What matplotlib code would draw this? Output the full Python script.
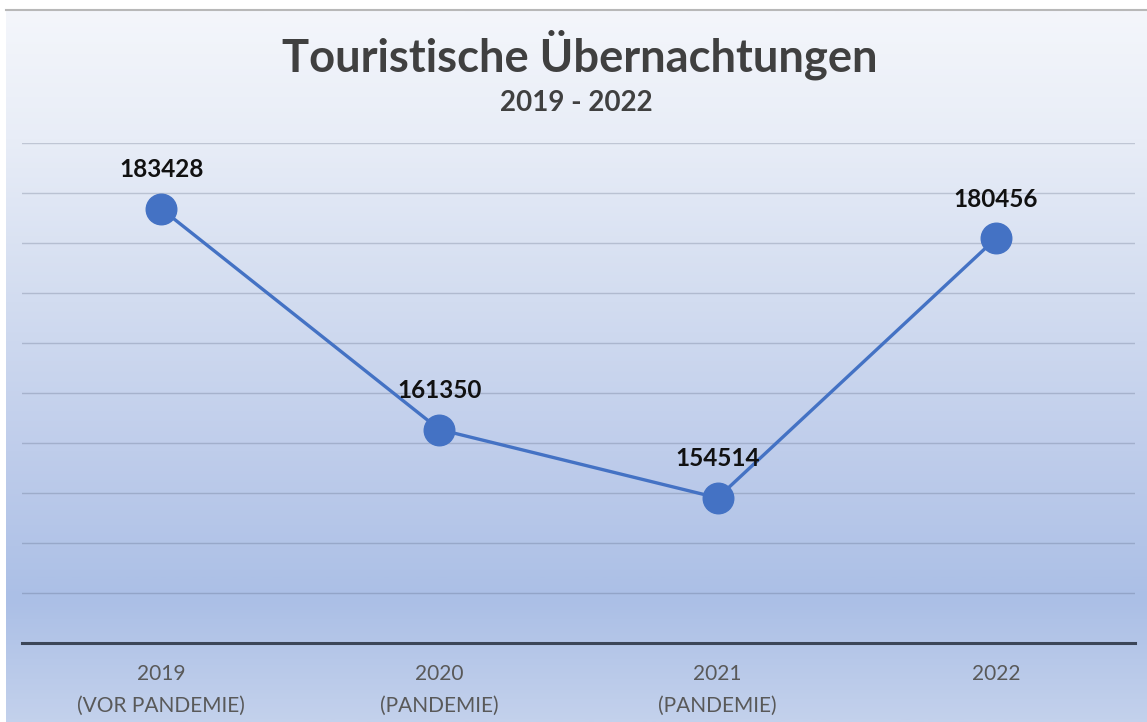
import numpy as np
import matplotlib
matplotlib.use("Agg")
import matplotlib.pyplot as plt
from matplotlib.colors import LinearSegmentedColormap

categories = ["2019\n(VOR PANDEMIE)", "2020\n(PANDEMIE)", "2021\n(PANDEMIE)", "2022"]
values = [183428, 161350, 154514, 180456]
title = "Touristische Übernachtungen"
subtitle = "2019 - 2022"

W, H = 1147, 722
fig = plt.figure(figsize=(W / 100, H / 100), dpi=100)
fig.patch.set_facecolor("white")

# background gradient
bg = fig.add_axes([6 / W, 0, 1 - 6 / W, (H - 10) / H], zorder=-5)
stops = [(0.0, "#f4f6fb"), (0.18, "#e8edf7"), (0.41, "#d2dcf0"),
         (0.62, "#bfcdeb"), (0.83, "#abbfe6"), (1.0, "#c3d1ec")]
cmap = LinearSegmentedColormap.from_list("bg", stops)
grad = np.linspace(0, 1, 400).reshape(-1, 1)
bg.imshow(grad, aspect="auto", cmap=cmap, extent=[0, 1, 0, 1], origin="upper")
bg.set_axis_off()
fig.add_artist(plt.Line2D([6 / W, 1], [(H - 9.5) / H] * 2, color="#b8b8b8", lw=1.5))

ax = fig.add_axes([22 / W, (H - 643) / H, (1135 - 22) / W, 500 / H])
ax.patch.set_alpha(0)
x = np.arange(len(values))
ax.plot(x, values, color="#4472c4", lw=2.4, marker="o", ms=22,
        markerfacecolor="#4472c4", markeredgecolor="#4472c4", zorder=3)
ax.set_xlim(-0.5, len(values) - 0.5)
ax.set_ylim(140000, 190000)
ax.set_yticks(np.arange(140000, 190001, 5000))
ax.yaxis.grid(True, color="#4a5670", alpha=0.25, lw=1.0)
ax.set_axisbelow(True)
ax.tick_params(axis="y", left=False, labelleft=False)
ax.tick_params(axis="x", length=0, pad=15)
ax.set_xticks(x)
ax.set_xticklabels(categories, fontsize=15, color="#595959", family="Lato",
                   linespacing=1.75)
for s in ["left", "right", "top"]:
    ax.spines[s].set_visible(False)
ax.spines["bottom"].set_color("#3c4658")
ax.spines["bottom"].set_linewidth(2.2)

for xi, v in zip(x, values):
    ax.annotate(str(v), (xi, v), xytext=(0, 28), textcoords="offset points",
                ha="center", va="center", fontsize=17.5, fontweight="bold",
                color="#111111", family="Lato")

fig.text(580 / W, 1 - 55 / H, title, ha="center", va="center", fontsize=32.7,
         fontweight="bold", color="#404040", family="Lato")
fig.text(576 / W, 1 - 103 / H, subtitle, ha="center", va="center", fontsize=20,
         fontweight="bold", color="#404040", family="Lato")

fig.savefig("out.png", dpi=100)
